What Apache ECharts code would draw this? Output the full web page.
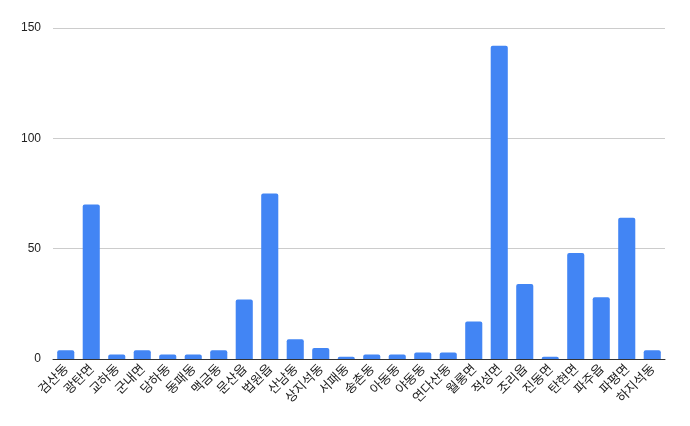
<!DOCTYPE html>
<html><head><meta charset="utf-8">
<script src="https://cdn.jsdelivr.net/npm/echarts@6/dist/echarts.min.js"></script>
<style>html,body{margin:0;padding:0;background:#fff}#c{width:690px;height:426px}</style>
</head><body><div id="c"></div>
<script>
const categories = ['검산동','광탄면','교하동','군내면','당하동','동패동','맥금동','문산읍','법원읍','산남동','상지석동','서패동','송촌동','아동동','야동동','연다산동','월롱면','적성면','조리읍','진동면','탄현면','파주읍','파평면','하지석동'];
const values = [4,70,2,4,2,2,4,27,75,9,5,1,2,2,3,3,17,142,34,1,48,28,64,4];
const yTicks = [0,50,100,150];
const chart = echarts.init(document.getElementById('c'));
chart.setOption({
  animation:false,
  grid:{left:53,right:25,top:28,bottom:67},
  xAxis:{type:'category',data:categories,
    axisLine:{lineStyle:{color:'#333',width:1}},
    axisTick:{show:false},
    axisLabel:{rotate:45,interval:0,fontSize:13,color:'#222',fontFamily:'Noto Sans CJK KR',margin:7}},
  yAxis:{type:'value',min:yTicks[0],max:yTicks[yTicks.length-1],interval:50,
    axisLine:{show:false},axisTick:{show:false},
    axisLabel:{fontSize:12,color:'#222',fontFamily:'Arial, Liberation Sans',margin:12},
    splitLine:{lineStyle:{color:'#cccccc'}}},
  series:[{type:'bar',data:values,barWidth:'67%',itemStyle:{color:'#4285f4',borderRadius:[2,2,0,0]}}]
});
</script></body></html>
